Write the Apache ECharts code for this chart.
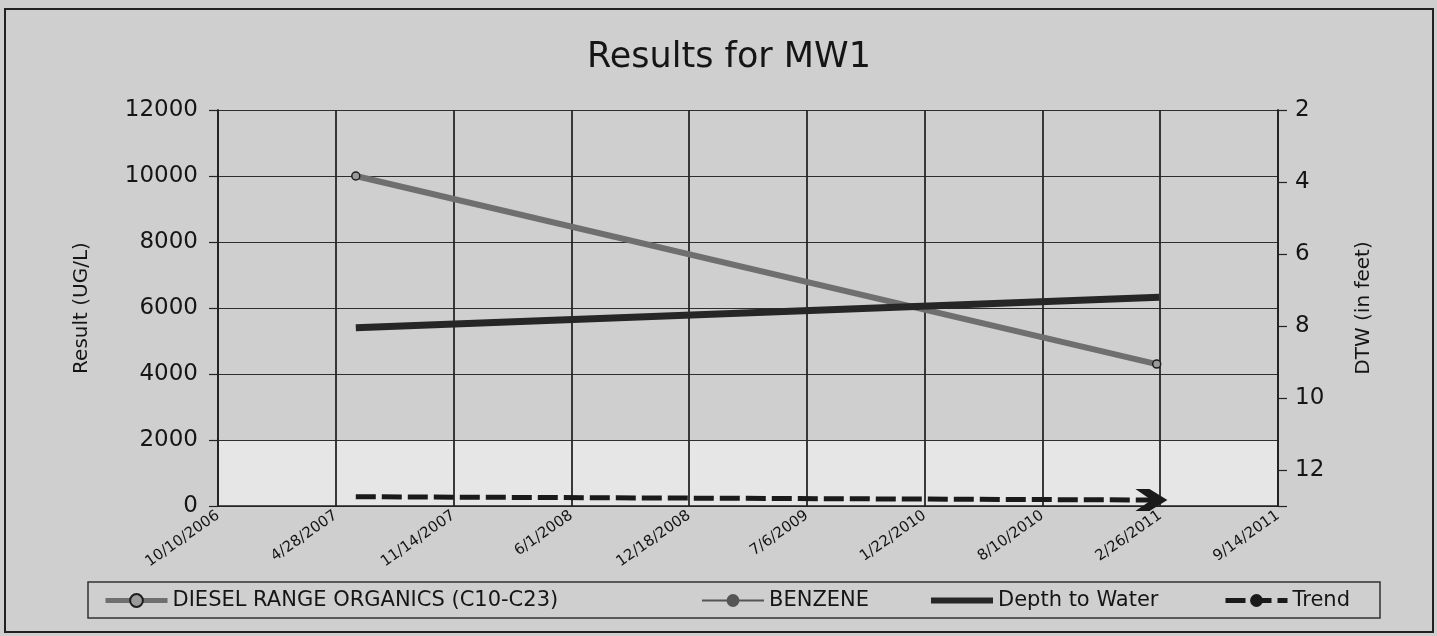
<!DOCTYPE html>
<html>
<head>
<meta charset="utf-8">
<title>Results for MW1</title>
<script src="https://cdn.jsdelivr.net/npm/echarts@6/dist/echarts.min.js"></script>
<style>
  html, body { margin: 0; padding: 0; background: #cfcfcf; }
  #chart { width: 1437px; height: 636px; }
</style>
</head>
<body>
<div id="chart"></div>
<script>
// axis runs in days counted from 10/10/2006, one gridline every 200 days
const xTickLabels = ['10/10/2006', '4/28/2007', '11/14/2007', '6/1/2008', '12/18/2008',
  '7/6/2009', '1/22/2010', '8/10/2010', '2/26/2011', '9/14/2011'];
const seriesNames = ['DIESEL RANGE ORGANICS (C10-C23)', 'BENZENE', 'Depth to Water', 'Trend'];

const droDates = ['2007-06-01', '2011-02-20'];
const droValues = [10000, 4300];
const benzeneDates = [];
const benzeneValues = [];
const dtwDates = ['2007-06-01', '2011-02-24'];
const dtwValues = [8.05, 7.2]; // feet, right axis
const trendDates = ['2007-06-01', '2011-02-28'];
const trendValues = [280, 180];

const baseDay = Date.UTC(2006, 9, 10);
function dayOf(s) {
  return Math.round((Date.parse(s + 'T00:00:00Z') - baseDay) / 86400000);
}
function pairs(dates, values) {
  return dates.map((d, i) => [dayOf(d), values[i]]);
}

const font = 'DejaVu Sans';
const ink = '#151515';
const bg = '#cfcfcf';

const chart = echarts.init(document.getElementById('chart'));

function legendFor(idx, left, lineWidth, extra) {
  return Object.assign({
    top: 590,
    left: left,
    data: [seriesNames[idx]],
    itemWidth: 62,
    itemHeight: 16,
    padding: 0,
    selectedMode: false,
    lineStyle: { width: lineWidth },
    textStyle: { fontSize: 21, color: ink, fontFamily: font },
  }, extra || {});
}

const trendData = pairs(trendDates, trendValues).map((p, i, arr) => {
  if (i === arr.length - 1) {
    return {
      value: p,
      symbol: 'path://M0,0 L15,0 L34,11 L15,22 L0,22 L17,11 Z',
      symbolSize: [32, 22],
      symbolOffset: [-10, 0],
      itemStyle: { color: '#1a1a1a' },
    };
  }
  return { value: p, symbol: 'none' };
});

chart.setOption({
  backgroundColor: bg,
  animation: false,
  title: {
    text: 'Results for MW1',
    left: 724,
    top: 35,
    textAlign: 'center',
    textStyle: { fontSize: 35, fontWeight: 'normal', color: ink, fontFamily: font },
  },
  graphic: [
    {
      type: 'rect',
      shape: { x: 5, y: 9, width: 1428, height: 623 },
      style: { fill: 'none', stroke: '#222', lineWidth: 2 },
    },
    {
      type: 'rect',
      shape: { x: 88, y: 582, width: 1292, height: 36 },
      style: { fill: 'none', stroke: '#333', lineWidth: 1.5 },
    },
  ],
  legend: [
    legendFor(0, 103, 5),
    legendFor(1, 701, 2),
    // plain thick bar, the depth line has no markers
    legendFor(2, 931, 6, { icon: 'rect', itemHeight: 6, itemStyle: { color: '#262626' } }),
    legendFor(3, 1223, 5),
  ],
  grid: { left: 218, right: 159, top: 110, bottom: 130 },
  xAxis: {
    type: 'value',
    min: 0,
    max: 1800,
    interval: 200,
    axisLine: { show: true, lineStyle: { color: '#222', width: 1.5 } },
    axisTick: { show: false },
    splitLine: { show: true, lineStyle: { color: '#262626', width: 1.8 } },
    axisLabel: {
      rotate: 35,
      margin: 8,
      fontSize: 15,
      color: ink,
      fontFamily: font,
      formatter: (v) => xTickLabels[Math.round(v / 200)] || '',
    },
  },
  yAxis: [
    {
      type: 'value',
      min: 0,
      max: 12000,
      interval: 2000,
      name: 'Result (UG/L)',
      nameLocation: 'middle',
      nameGap: 126,
      nameTextStyle: { fontSize: 20, color: ink, fontFamily: font },
      axisLine: { show: true, lineStyle: { color: '#222', width: 1.8 } },
      axisTick: { show: true, length: 9, lineStyle: { color: '#222', width: 1.2 } },
      axisLabel: {
        margin: 20,
        fontSize: 23,
        color: ink,
        fontFamily: font,
        formatter: (v) => String(v),
      },
      splitLine: { show: true, lineStyle: { color: '#2e2e2e', width: 1.2 } },
      // lighter band between 0 and 2000, under the gridlines
      splitArea: {
        show: true,
        areaStyle: { color: ['#e6e6e6', bg, bg, bg, bg, bg] },
      },
    },
    {
      type: 'value',
      position: 'right',
      inverse: true,
      min: 2,
      max: 13,
      interval: 2,
      name: 'DTW (in feet)',
      nameLocation: 'middle',
      nameGap: 76,
      nameTextStyle: { fontSize: 20, color: ink, fontFamily: font },
      axisLine: { show: true, lineStyle: { color: '#222', width: 1.8 } },
      axisTick: { show: true, length: 9, lineStyle: { color: '#222', width: 1.2 } },
      axisLabel: {
        margin: 17,
        fontSize: 23,
        color: ink,
        fontFamily: font,
        formatter: (v) => (v === 13 ? '' : String(v)),
      },
      splitLine: { show: false },
    },
  ],
  series: [
    {
      name: seriesNames[0],
      type: 'line',
      data: pairs(droDates, droValues),
      symbol: 'circle',
      symbolSize: 8,
      itemStyle: { color: '#9a9a9a', borderColor: '#1e1e1e', borderWidth: 1.5 },
      lineStyle: { color: '#6f6f6f', width: 6 },
      z: 3,
    },
    {
      name: seriesNames[1],
      type: 'line',
      data: pairs(benzeneDates, benzeneValues),
      symbol: 'circle',
      symbolSize: 4,
      itemStyle: { color: '#555' },
      lineStyle: { color: '#555', width: 2 },
    },
    {
      name: seriesNames[2],
      type: 'line',
      yAxisIndex: 1,
      data: pairs(dtwDates, dtwValues),
      symbol: 'none',
      itemStyle: { color: '#262626' },
      lineStyle: { color: '#262626', width: 7 },
      z: 4,
    },
    {
      name: seriesNames[3],
      type: 'line',
      data: trendData,
      symbol: 'circle',
      symbolSize: 5,
      itemStyle: { color: '#1a1a1a' },
      lineStyle: { color: '#1a1a1a', width: 5, type: [20, 6] },
      z: 5,
    },
  ],
});
</script>
</body>
</html>
